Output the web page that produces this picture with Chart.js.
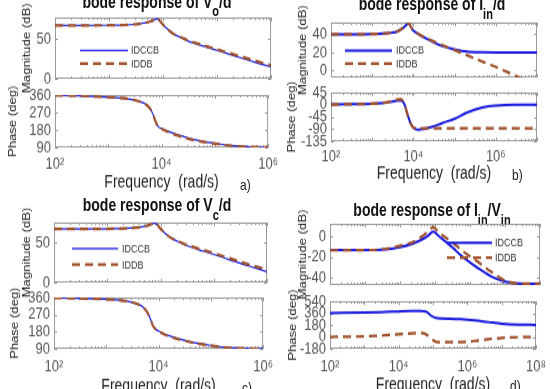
<!DOCTYPE html>
<html>
<head>
<meta charset="utf-8">
<script src="https://cdn.jsdelivr.net/npm/chart.js@4.4.1/dist/chart.umd.min.js"></script>
<style>
html, body { margin: 0; padding: 0; background: #fff; overflow: hidden; width: 550px; height: 389px; }
#page { position: absolute; left: 0; top: 0; width: 550px; height: 311.2px; transform: scale(1, 1.25); transform-origin: 0 0; font-family: "Liberation Sans", Arial, sans-serif; }
canvas { position: absolute; }
.ttl { position: absolute; font-weight: bold; font-size: 14px; line-height: 14px; white-space: nowrap; color: #111; transform: translateX(-50%); }
.ttl sub { font-size: 11px; vertical-align: -7px; line-height: 0; }
.tag { position: absolute; font-size: 12px; line-height: 12px; color: #222; }
</style>
</head>
<body>
<div id="page">
  <div class="ttl" style="left:157px;top:-6px">bode response of V<sub>o</sub>/d</div>
  <div class="ttl" style="left:432px;top:-4px">bode response of I<sub>in</sub>/d</div>
  <div class="ttl" style="left:157px;top:157px">bode response of V<sub>c</sub>/d</div>
  <div class="ttl" style="left:432px;top:161px">bode response of I<sub>in</sub>/V<sub>in</sub></div>
  <div class="tag" style="left:240px;top:142px">a)</div>
  <div class="tag" style="left:512px;top:134px">b)</div>
  <div class="tag" style="left:242px;top:304px">c)</div>
  <div class="tag" style="left:510px;top:303px">d)</div>
</div>
<script>
// ---- data ----
const seriesNames = ['IDCCB', 'IDDB'];

// a) Vo/d
const freqA = [1e2, 3e2, 7e2, 1.5e3, 2.8e3, 4e3, 5e3, 6e3, 6.6e3, 7.2e3, 7.7e3, 8.7e3, 1e4, 1.25e4, 1.55e4, 2e4, 2.75e4, 4.9e4, 1e5, 2e5, 4.7e5, 1e6];
const magA_idccb = [67.5, 67.5, 67.6, 67.9, 68.8, 70, 71.2, 72.8, 74, 75.2, 76, 73.5, 68.5, 62, 57, 53, 48.5, 42.5, 36, 29.5, 21.5, 15];
const magA_iddb  = [67.5, 67.5, 67.6, 67.9, 68.8, 70, 71.2, 72.8, 74, 75.2, 76, 73.5, 68.5, 62, 57, 53.5, 49.2, 43.5, 37.2, 31, 23.5, 17];
const phA_idccb  = [357, 356, 351, 346, 337, 325, 313, 292, 273, 248, 225, 197, 188, 176, 166, 156, 144, 126, 112, 100, 93, 91];
const phA_iddb   = [357, 356, 351, 346, 337, 325, 313, 292, 273, 248, 225, 197, 186, 173, 162, 152, 140, 123, 110, 99, 93, 91];

// b) Iin/d
const freqB = [1e2, 3e2, 1e3, 2e3, 3e3, 4e3, 5e3, 6e3, 7e3, 7.5e3, 8.5e3, 1e4, 1.3e4, 2e4, 3e4, 5e4, 1e5, 2e5, 5e5, 1e6, 3e6, 1e7];
const magB_idccb = [40, 40, 40.3, 41, 41.8, 43, 45.5, 48, 51, 52.3, 49, 44, 40.5, 35.5, 31.5, 27, 23.5, 21, 20.2, 20, 20, 20];
const magB_iddb  = [40, 40, 40.3, 41, 41.8, 43, 45.5, 48, 51, 52.3, 49, 44, 40.5, 36, 32.5, 28.3, 22.5, 17, 9.5, 4, -5.5, -16];
const phB_idccb  = [1, 2, 4, 7, 11, 15, 15, 3, -30, -45, -68, -85, -92, -88, -81, -68, -52, -29, -9, -3, 0, 0];
const phB_iddb   = [1, 2, 4, 8, 13, 19, 20, 5, -30, -45, -68, -84, -87, -87, -87, -87, -87, -87, -87, -87, -87, -87];

// c) Vc/d
const freqC = [1e2, 3e2, 7e2, 1.5e3, 2.8e3, 4e3, 5e3, 6e3, 6.6e3, 7.2e3, 7.7e3, 8.7e3, 1e4, 1.25e4, 1.55e4, 2e4, 2.75e4, 4.9e4, 1e5, 2e5, 4.7e5, 1e6];
const magC_idccb = [67.5, 67.5, 67.6, 67.9, 68.6, 69.6, 70.7, 72.2, 73.3, 74.3, 75, 72.5, 67.8, 61.5, 56.5, 52.5, 48, 42, 35.5, 28.5, 20.5, 13.5];
const magC_iddb  = [67.5, 67.5, 67.6, 67.9, 68.6, 69.6, 70.7, 72.2, 73.3, 74.3, 75, 72.5, 67.8, 61.5, 56.5, 53, 48.8, 43.2, 37, 30.5, 22.5, 16.5];
const phC_idccb  = [357, 356, 353, 348, 338, 325, 310, 285, 262, 238, 215, 194, 184, 170, 160, 150, 139, 122, 108, 97, 92, 90];
const phC_iddb   = [357, 356, 353, 348, 338, 325, 310, 285, 262, 238, 215, 194, 182, 167, 156, 146, 136, 120, 107, 96, 92, 90];

// d) Iin/Vin
const freqD = [1e2, 1e3, 4e3, 1e4, 2.5e4, 4.3e4, 6.3e4, 8.9e4, 1.3e5, 3.2e5, 6.3e5, 1.6e6, 4e6, 1e7, 3.2e7, 1e8];
const magD_idccb = [-13.3, -13.3, -12.5, -10.5, -6.5, -3, 0.5, 4.5, 0, -11, -20, -30, -38.5, -43.5, -45.5, -45.5];
const magD_iddb  = [-13.5, -13.3, -12, -9, -5, 0, 4.5, 8.5, 3.5, -6, -14.5, -24, -34, -42.5, -45.5, -45.5];
const phD_idccb  = [362, 368, 378, 386, 393, 395, 385, 320, 285, 275, 268, 250, 225, 200, 185, 182];
const phD_iddb   = [0, 8, 25, 40, 55, 60, 40, -30, -78, -80, -78, -62, -35, -15, -4, 0];

// axis ticks / ranges
const xTicksA = [1e2, 1e4, 1e6], xRangeA = [1e2, 1e6];
const xTicksB = [1e2, 1e4, 1e6], xRangeB = [1e2, 1e7];
const xTicksD = [1e2, 1e4, 1e6, 1e8], xRangeD = [1e2, 1e8];
const magTicksA = [0, 50], magRangeA = [0, 77.5];
const magTicksB = [0, 20, 40], magRangeB = [-7.6, 53];
const magTicksC = [0, 50], magRangeC = [0, 75.6];
const magTicksD = [-40, -20, 0], magRangeD = [-46.8, 12];
const phTicksA = [90, 180, 270, 360], phRangeA = [90, 360];
const phTicksB = [-135, -90, -45, 0, 45], phRangeB = [-135, 45];
const phTicksD = [-180, 0, 180, 360, 540], phRangeD = [-180, 540];
const SUP = { 2: '\u00b2', 4: '\u2074', 6: '\u2076', 8: '\u2078' };

const BLUE = '#1a1ae0', BROWN = '#a0522d';
const FONT = '"Liberation Sans", Arial, sans-serif';
const page = document.getElementById('page');
const PT = 18, PR = 14;

function logTicks(lo, hi) {
    const t = [];
    for (let e = Math.round(Math.log10(lo)); Math.pow(10, e) <= hi; e++) {
        for (let m = 1; m < 10; m++) {
            const v = m * Math.pow(10, e);
            if (v >= lo && v <= hi) t.push({ value: v, major: m === 1 });
        }
    }
    return t;
}

const boxPlugin = {
    id: 'matlabBox',
    beforeDatasetsDraw(chart) {
        const { ctx, chartArea: a, scales: { x, y } } = chart;
        ctx.save();
        ctx.strokeStyle = '#9a9a9a';
        ctx.lineWidth = 1;
        ctx.strokeRect(a.left + 0.5, a.top + 0.5, a.width - 1, a.height - 1);
        ctx.beginPath();
        x.ticks.forEach(t => {
            const px = Math.round(x.getPixelForValue(t.value)) + 0.5;
            const len = t.major ? 3 : 2;
            ctx.moveTo(px, a.top); ctx.lineTo(px, a.top + len);
            ctx.moveTo(px, a.bottom); ctx.lineTo(px, a.bottom - len);
        });
        y.ticks.forEach(t => {
            const py = Math.round(y.getPixelForValue(t.value)) + 0.5;
            ctx.moveTo(a.left, py); ctx.lineTo(a.left + 3, py);
            ctx.moveTo(a.right, py); ctx.lineTo(a.right - 3, py);
        });
        ctx.stroke();
        ctx.restore();
    },
    afterDatasetsDraw(chart, args, opts) {
        const lg = opts.legend;
        if (!lg) return;
        const { ctx, chartArea: a } = chart;
        ctx.save();
        chart.data.datasets.forEach((ds, i) => {
            const yy = a.top + lg.y[i];
            ctx.strokeStyle = ds.borderColor;
            ctx.lineWidth = ds.borderWidth;
            ctx.setLineDash(ds.borderDash || []);
            ctx.beginPath();
            ctx.moveTo(a.left + lg.x0, yy);
            ctx.lineTo(a.left + lg.x1, yy);
            ctx.stroke();
            ctx.setLineDash([]);
            ctx.fillStyle = '#333';
            ctx.font = '9px ' + FONT;
            ctx.textBaseline = 'middle';
            ctx.fillText(ds.label, a.left + lg.tx, yy + 0.5);
        });
        ctx.restore();
    }
};

function series(freq, vals, i, thin) {
    return {
        label: seriesNames[i],
        data: freq.map((f, k) => ({ x: f, y: vals[k] })),
        borderColor: i === 0 ? BLUE : BROWN,
        borderWidth: i === 0 ? (thin ? 1.2 : 2) : 2.2,
        borderDash: i === 0 ? [] : [8, 5],
        pointRadius: 0,
        cubicInterpolationMode: 'monotone',
        order: i === 0 ? 2 : 1
    };
}

function panel(box, xRange, xMajors, yRange, yTicks, datasets, o) {
    const L = Math.round(box[0]), R = Math.round(box[1]), T = Math.round(box[2]), B = Math.round(box[3]);
    const xh = o.xh || 0, pb = xh ? 0 : 16;
    const cv = document.createElement('canvas');
    cv.width = R - L + o.yw + PR;
    cv.height = B - T + PT + xh + pb;
    cv.style.left = (L - o.yw) + 'px';
    cv.style.top = (T - PT) + 'px';
    page.appendChild(cv);
    new Chart(cv, {
        type: 'line',
        data: { datasets },
        options: {
            responsive: false,
            animation: false,
            events: [],
            layout: { padding: { top: PT, right: PR, bottom: pb, left: 0 } },
            plugins: { legend: { display: false }, tooltip: { enabled: false }, matlabBox: { legend: o.legend } },
            scales: {
                x: {
                    type: 'logarithmic', min: xRange[0], max: xRange[1],
                    afterBuildTicks: s => { s.ticks = logTicks(xRange[0], xRange[1]); },
                    afterFit: s => { s.height = xh; },
                    grid: { display: false, drawTicks: false },
                    border: { display: false },
                    ticks: {
                        display: !!xh, autoSkip: false, maxRotation: 0, minRotation: 0,
                        padding: o.labelPad || 0, color: '#555',
                        font: { size: 13, lineHeight: 1, family: FONT },
                        callback: v => xMajors.includes(v) ? '10' + SUP[Math.round(Math.log10(v))] : ''
                    },
                    title: {
                        display: !!xh, text: 'Frequency  (rad/s)', color: '#222', padding: 0,
                        font: { size: 14, lineHeight: 1, family: FONT }
                    }
                },
                y: {
                    min: yRange[0], max: yRange[1],
                    afterBuildTicks: s => { s.ticks = yTicks.map(v => ({ value: v })); },
                    afterFit: s => { s.width = o.yw; },
                    grid: { display: false, drawTicks: false },
                    border: { display: false },
                    ticks: {
                        autoSkip: false, padding: 4, color: '#555',
                        font: { size: 13, lineHeight: 1, family: FONT }
                    },
                    title: {
                        display: true, text: o.ylabel, color: '#222', padding: 0,
                        font: { size: 10.5, lineHeight: 1, family: FONT }
                    }
                }
            }
        },
        plugins: [boxPlugin]
    });
}

// a)
panel([55, 271, 13.6, 63.2], xRangeA, xTicksA, magRangeA, magTicksA,
    [series(freqA, magA_idccb, 0, true), series(freqA, magA_iddb, 1)],
    { yw: 33, ylabel: 'Magnitude (dB)', legend: { x0: 25, x1: 73, y: [26.4, 36.8], tx: 76 } });
panel([55, 271, 76, 117.6], xRangeA, xTicksA, phRangeA, phTicksA,
    [series(freqA, phA_idccb, 0, true), series(freqA, phA_iddb, 1)],
    { yw: 47, ylabel: 'Phase (deg)', xh: 35, labelPad: 7 });

// b)
panel([331, 537, 17.6, 62.4], xRangeB, xTicksB, magRangeB, magTicksB,
    [series(freqB, magB_idccb, 0), series(freqB, magB_iddb, 1)],
    { yw: 33, ylabel: 'Magnitude (dB)', legend: { x0: 14, x1: 61, y: [22.4, 32.8], tx: 65 } });
panel([331, 537, 74.4, 112.8], xRangeB, xTicksB, phRangeB, phTicksB,
    [series(freqB, phB_idccb, 0), series(freqB, phB_iddb, 1)],
    { yw: 44, ylabel: 'Phase (deg)', xh: 33, labelPad: 6 });

// c)
panel([54, 267, 178.4, 225.6], xRangeA, xTicksA, magRangeC, magTicksC,
    [series(freqC, magC_idccb, 0, true), series(freqC, magC_iddb, 1)],
    { yw: 32, ylabel: 'Magnitude (dB)', legend: { x0: 18, x1: 64, y: [20.8, 33.6], tx: 68 } });
panel([54, 267, 238.4, 279.2], xRangeA, xTicksA, phRangeA, phTicksA,
    [series(freqC, phC_idccb, 0, true), series(freqC, phC_iddb, 1)],
    { yw: 44, ylabel: 'Phase (deg)', xh: 37, labelPad: 8 });

// d)
panel([330, 540, 179.2, 228], xRangeD, xTicksD, magRangeD, magTicksD,
    [series(freqD, magD_idccb, 0), series(freqD, magD_iddb, 1)],
    { yw: 32, ylabel: 'Magnitude (dB)', legend: { x0: 117, x1: 162, y: [15.2, 27.2], tx: 165 } });
panel([330, 540, 240.8, 279.2], xRangeD, xTicksD, phRangeD, phTicksD,
    [series(freqD, phD_idccb, 0), series(freqD, phD_iddb, 1)],
    { yw: 42, ylabel: 'Phase (deg)', xh: 36, labelPad: 8 });
</script>
</body>
</html>
